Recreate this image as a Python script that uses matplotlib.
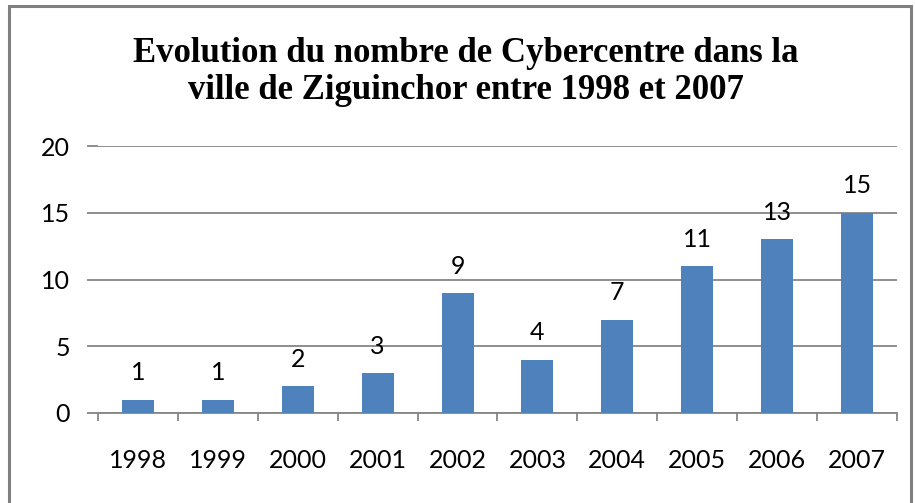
import matplotlib
matplotlib.use("Agg")
import matplotlib.pyplot as plt
import numpy as np
from matplotlib.patches import Rectangle

# data
years = ["1998", "1999", "2000", "2001", "2002", "2003", "2004", "2005", "2006", "2007"]
counts = [1, 1, 2, 3, 9, 4, 7, 11, 13, 15]
yticks = [0, 5, 10, 15, 20]
title = "Evolution du nombre de Cybercentre dans la\nville de Ziguinchor entre 1998 et 2007"

W, H = 915, 503
fig = plt.figure(figsize=(W / 100, H / 100), dpi=100)
fig.patch.set_facecolor("white")

# outer chart frame
fig.add_artist(Rectangle((9 / W, -0.05), 902 / W, 1.05 - 6 / H, transform=fig.transFigure,
                         fill=False, edgecolor="#808080", linewidth=2.2))

ax = fig.add_axes([98 / W, 1 - 413 / H, (897 - 98) / W, (413 - 146) / H])
grid_c = "#868686"
bar_c = "#4F81BD"
tick_font = "Lato"
fs = 18

x = np.arange(len(years))
bars = ax.bar(x, counts, width=0.4, color=bar_c, zorder=3)

ax.set_xlim(-0.5, len(years) - 0.5)
ax.set_ylim(0, 20)
ax.set_yticks(yticks)
ax.set_yticklabels([str(v) for v in yticks], fontsize=fs, family=tick_font)
ax.yaxis.grid(True, color=grid_c, linewidth=1.3, zorder=0)
ax.tick_params(axis="y", length=8, width=1.3, color=grid_c, pad=12)

# category boundaries as major ticks, labels on minor ticks at centers
ax.set_xticks(np.arange(-0.5, len(years), 1.0))
ax.set_xticklabels([])
ax.tick_params(axis="x", which="major", length=6, width=1.3, color=grid_c, direction="out")
ax.set_xticks(x, minor=True)
ax.set_xticklabels(years, minor=True, fontsize=fs, family=tick_font)
ax.tick_params(axis="x", which="minor", length=0, pad=26)

for s in ["left", "right", "top"]:
    ax.spines[s].set_visible(False)
ax.spines["bottom"].set_color(grid_c)
ax.spines["bottom"].set_linewidth(1.3)

for xi, v in zip(x, counts):
    ax.annotate(str(v), (xi, v), xytext=(0, 11), textcoords="offset points",
                ha="center", va="bottom", fontsize=fs, family=tick_font, color="black")

fig.text(466 / W, 1 - 72 / H, title, ha="center", va="center", fontsize=25,
         family="Liberation Serif", fontweight="bold", linespacing=1.15)

fig.savefig("out.png", dpi=100)
